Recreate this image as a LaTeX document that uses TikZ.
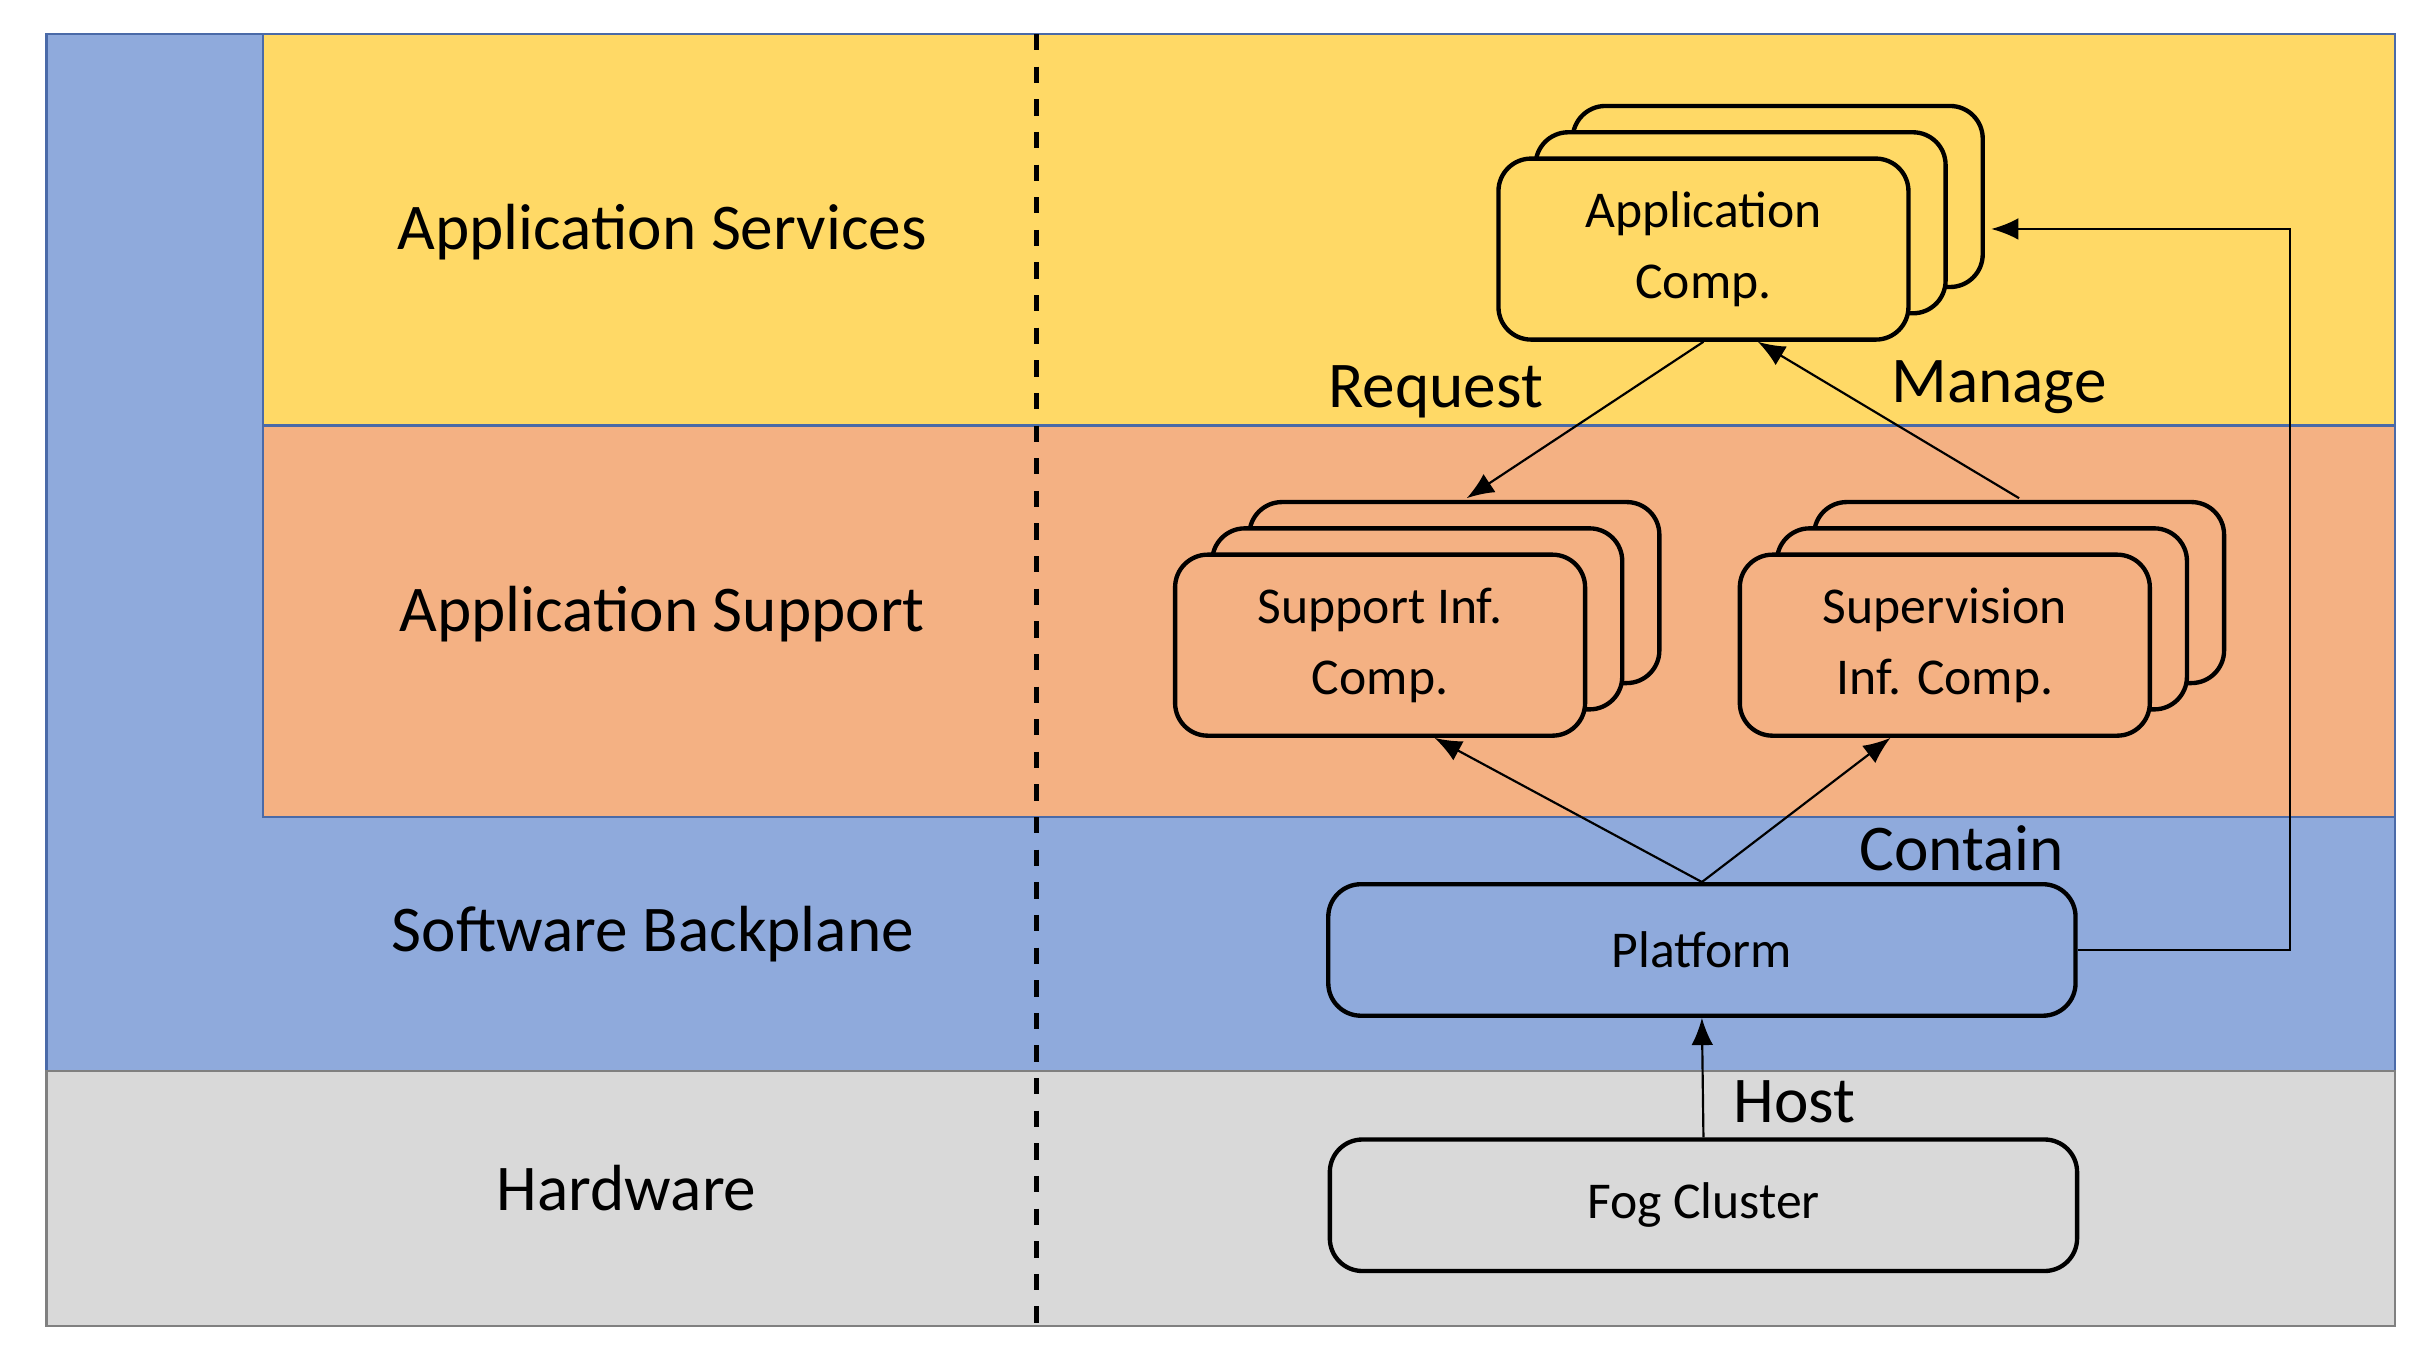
\documentclass[tikz,border=0pt]{standalone}
\usepackage{fontspec}
\setmainfont{Carlito}
\usetikzlibrary{arrows.meta,positioning}
\definecolor{layblue}{HTML}{8FAADC}
\definecolor{layyellow}{HTML}{FFD966}
\definecolor{layorange}{HTML}{F4B183}
\definecolor{laygrey}{HTML}{D9D9D9}
\definecolor{layedge}{HTML}{4A6AA8}
\tikzset{
  comp/.style={draw,thick,rounded corners=6pt,minimum width=2.65cm,minimum height=1.17cm,align=center,font=\fontsize{9.5}{13}\selectfont},
  wide/.style={draw,thick,rounded corners=6pt,minimum width=4.83cm,minimum height=0.85cm,font=\fontsize{9.5}{12}\selectfont},
  laylabel/.style={font=\fontsize{12}{14}\selectfont},
  rel/.style={font=\fontsize{12}{14}\selectfont,inner sep=1pt},
  link/.style={-{Latex[length=5pt,width=4pt]},thin}
}
\begin{document}
\begin{tikzpicture}[x=0.1mm,y=-0.1mm]
			\useasboundingbox (0,0) rectangle (1568,880);
			\fill[white] (0,0) rectangle (1568,880);
			\draw[layedge,fill=layblue]  (30,22) rectangle (1548,692);
			\draw[gray,fill=laygrey]  (30,692) rectangle (1548,857);
			\draw[layedge,fill=layyellow]  (170,22) rectangle (1548,275);
			\draw[layedge,fill=layorange]  (170,275) rectangle (1548,528);
			\draw[thick,dashed]  (670,22)-- (670,857);
			\node[laylabel] (services) at (428,150) {Application Services};
			\node[laylabel] (support) at (428,397) {Application Support};
			\node[laylabel] (backplane) at (422,604) {Software Backplane};
			\node[laylabel] (hardware) at (405,768) {Hardware};
			% stacked components
			\foreach \nm/\x/\y/\col/\txt in {app/1101/161/layyellow/{Application\\Comp.},sup/892/417/layorange/{Support Inf.\\Comp.},sv/1257/417/layorange/{Supervision\\Inf. Comp.}}{
				\node[comp,fill=\col] at (\x+48,\y-34) {};
				\node[comp,fill=\col] at (\x+24,\y-17) {};
				\node[comp,fill=\col] (\nm) at (\x,\y) {\txt};
			}
			\node[wide,fill=layblue] (platform) at (1100,614) {Platform};
			\node[wide,fill=laygrey] (fog) at (1101,779) {Fog Cluster};
			% relations
			\coordinate (reqend) at (948,322);
			\coordinate (mgstart) at (1305,322);
			\coordinate (feed) at (1480,148);
			\draw[link] (app.south) -- (reqend);
			\draw[link] (mgstart) -- ([xshift=10]app.south);
			\draw[link] (platform.north) -- ([xshift=10]sup.south);
			\draw[link] (platform.north) -- ([xshift=-10]sv.south);
			\draw[link] (fog.north) -- (platform.south);
			\draw[link] (platform.east) -| (feed) -- (1287,148);
			\node[rel] (request) at (928,253) {Request};
			\node[rel] (manage) at (1292,250) {Manage};
			\node[rel] (contain) at (1268,548) {Contain};
			\node[rel] (host) at (1160,712) {Host};
		\end{tikzpicture}
\end{document}
